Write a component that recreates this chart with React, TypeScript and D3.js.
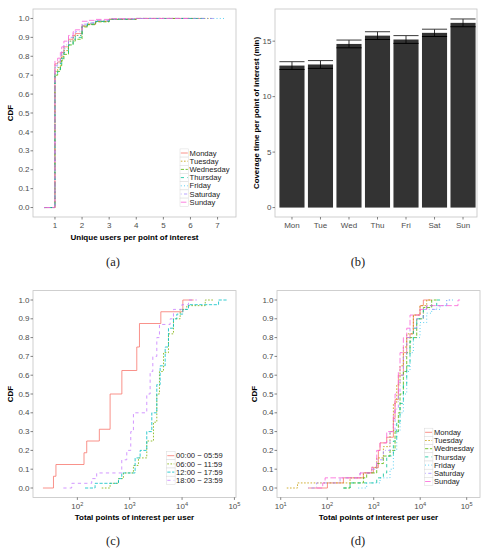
import React from 'react';
import * as d3 from 'd3';

// ---- shared ----
const weekdays = ['Monday', 'Tuesday', 'Wednesday', 'Thursday', 'Friday', 'Saturday', 'Sunday'];
const dayShort = ['Mon', 'Tue', 'Wed', 'Thu', 'Fri', 'Sat', 'Sun'];
const hueSeven = ['#F8766D', '#C49A00', '#53B400', '#00C094', '#00B6EB', '#A58AFF', '#FB61D7'];
const hueFour = ['#F8766D', '#7CAE00', '#00BFC4', '#C77CFF'];
const dashes = ['none', '1.6,1.6', '3.2,1.6', '3.2,3.2', '0.8,2.4', '0.8,2.4,3.2,2.4', '5.6,2.4'];

// ---- (a) unique users per POI: cdf level after each break ----
const usersBreaks = [0.6, 1, 1.1, 1.2, 1.25, 1.33, 1.5, 1.67, 1.75, 2, 2.2, 2.5, 3, 4];
const usersMonday = [0, 0.76, 0.77, 0.79, 0.82, 0.85, 0.89, 0.91, 0.92, 0.96, 0.97, 0.985, 0.996, 1];
const usersTuesday = [0, 0.72, 0.74, 0.77, 0.8, 0.83, 0.88, 0.9, 0.91, 0.96, 0.97, 0.985, 0.996, 1];
const usersWednesday = [0, 0.7, 0.72, 0.75, 0.78, 0.81, 0.86, 0.88, 0.89, 0.955, 0.967, 0.982, 0.995, 1];
const usersThursday = [0, 0.71, 0.73, 0.76, 0.79, 0.82, 0.86, 0.89, 0.9, 0.96, 0.97, 0.984, 0.996, 1];
const usersFriday = [0, 0.74, 0.76, 0.78, 0.81, 0.84, 0.88, 0.9, 0.91, 0.965, 0.975, 0.988, 0.997, 1];
const usersSaturday = [0, 0.75, 0.77, 0.8, 0.83, 0.86, 0.9, 0.92, 0.93, 0.97, 0.978, 0.99, 0.997, 1];
const usersSunday = [0, 0.775, 0.79, 0.82, 0.85, 0.88, 0.91, 0.93, 0.94, 0.985, 0.99, 0.995, 0.998, 1];
const usersEnd = [6.5, 6.8, 6.2, 6.6, 7.3, 6.9, 6.0];

// ---- (b) coverage time per POI (min) ----
const coverageMean = [12.8, 12.9, 14.75, 15.5, 15.15, 15.75, 16.65];
const coverageErr = [0.35, 0.35, 0.35, 0.35, 0.35, 0.33, 0.35];

// ---- (c) total POIs per user, by time slot: [value, cdf] ----
const slotNames = ['00:00 \u2212 05:59', '06:00 \u2212 11:59', '12:00 \u2212 17:59', '18:00 \u2212 23:59'];
const slotNight = [[22, 0], [35, 0.0625], [39, 0.125], [134, 0.1875], [151, 0.25], [263, 0.3125], [422, 0.5], [708, 0.625], [1365, 0.75], [1535, 0.875], [3930, 0.9375], [10350, 1], [16600, 1]];
const slotMorning = [[292, 0], [422, 0.025], [610, 0.05], [759, 0.08], [1178, 0.12], [1469, 0.16], [2118, 0.25], [2844, 0.35], [3293, 0.5], [3700, 0.62], [4416, 0.72], [5500, 0.82], [6855, 0.9], [9204, 0.95], [12330, 0.97], [27670, 1], [39900, 1]];
const slotAfternoon = [[140, 0], [218, 0.025], [610, 0.05], [705, 0.08], [1268, 0.16], [1581, 0.2], [2118, 0.3], [2642, 0.4], [3293, 0.55], [3811, 0.65], [4753, 0.75], [5500, 0.85], [6855, 0.9], [7943, 0.925], [10350, 0.95], [13270, 0.975], [49770, 1], [71800, 1]];
const slotEvening = [[54, 0], [78, 0.025], [188, 0.05], [234, 0.08], [705, 0.15], [879, 0.2], [1047, 0.3], [1178, 0.4], [2118, 0.5], [2455, 0.62], [2761, 0.7], [3293, 0.8], [3700, 0.87], [5916, 0.9], [6855, 0.95], [9900, 0.975], [13270, 1], [19140, 1]];

// ---- (d) total POIs per user, by weekday: [value, cdf] ----
const poiMonday = [[39, 0], [101, 0.027], [223, 0.054], [600, 0.081], [984, 0.108], [1259, 0.2], [1368, 0.24], [1905, 0.27], [2649, 0.37], [2877, 0.47], [3388, 0.6], [4345, 0.72], [5129, 0.8], [6039, 0.82], [7129, 0.92], [9908, 0.97], [11690, 1], [17660, 1]];
const poiTuesday = [[13.5, 0], [23, 0.027], [310, 0.054], [600, 0.08], [906, 0.11], [1161, 0.16], [1614, 0.22], [2244, 0.3], [2649, 0.45], [3126, 0.55], [3681, 0.65], [4345, 0.75], [5129, 0.82], [7129, 0.92], [9908, 0.97], [13800, 1], [17660, 1]];
const poiWednesday = [[223, 0], [310, 0.027], [600, 0.054], [706, 0.08], [1161, 0.13], [1614, 0.17], [2244, 0.2], [2877, 0.3], [3388, 0.4], [3681, 0.5], [4345, 0.62], [5129, 0.72], [6039, 0.8], [8414, 0.9], [11690, 0.96], [17660, 1], [22650, 1]];
const poiThursday = [[223, 0], [310, 0.027], [1161, 0.054], [1614, 0.08], [1905, 0.17], [2649, 0.25], [3126, 0.35], [3681, 0.45], [4345, 0.55], [5129, 0.65], [6039, 0.78], [7129, 0.85], [8414, 0.9], [11690, 0.95], [13800, 0.97], [22650, 1], [26730, 1]];
const poiFriday = [[468, 0], [706, 0.027], [1368, 0.054], [2244, 0.1], [2649, 0.2], [3126, 0.3], [3681, 0.4], [4345, 0.5], [5129, 0.62], [6039, 0.72], [7129, 0.8], [9908, 0.88], [13800, 0.93], [17660, 0.95], [26730, 0.97], [37150, 1], [51640, 1]];
const poiSaturday = [[39, 0], [59, 0.027], [189, 0.054], [508, 0.08], [906, 0.1], [1161, 0.15], [1614, 0.2], [2244, 0.3], [2877, 0.42], [3388, 0.5], [3681, 0.6], [4345, 0.7], [5129, 0.8], [6039, 0.85], [8414, 0.9], [11690, 0.95], [22650, 0.97], [37150, 1], [44000, 1]];
const poiSunday = [[59, 0], [80, 0.027], [90, 0.054], [508, 0.08], [906, 0.11], [1161, 0.2], [1368, 0.24], [1905, 0.3], [2649, 0.4], [2877, 0.5], [3388, 0.62], [3681, 0.72], [4345, 0.8], [5129, 0.85], [6039, 0.92], [9908, 0.95], [13800, 0.97], [65000, 1], [71940, 1]];

const cdfTicks = [0, 0.1, 0.2, 0.3, 0.4, 0.5, 0.6, 0.7, 0.8, 0.9, 1];
const usersTicks = [1, 2, 3, 4, 5, 6, 7];
const coverageTicks = [0, 5, 10, 15];
const logTicksC = [2, 3, 4, 5];
const logTicksD = [1, 2, 3, 4, 5];

const SANS = 'Liberation Sans, Arial, sans-serif';
const TICK = '#4d4d4d';
const BORDER = '#c4c4c4';

type Frame = { x0: number; x1: number; y0: number; y1: number };
type Series = { name: string; color: string; dash: string; points: number[][] };

const stepLine = (x: any, y: any) =>
  d3.line<number[]>().x(d => x(d[0])).y(d => y(d[1])).curve(d3.curveStepAfter);

function YAxis({ y, frame, ticks, fmt }: any) {
  return (
    <g>
      {ticks.map((t: number) => (
        <g key={t}>
          <line x1={frame.x0 - 2.5} x2={frame.x0} y1={y(t)} y2={y(t)} stroke={TICK} strokeWidth={0.7} />
          <text x={frame.x0 - 3.5} y={y(t)} dy="0.33em" textAnchor="end" fontSize={8} fill={TICK} fontFamily={SANS}>
            {fmt(t)}
          </text>
        </g>
      ))}
    </g>
  );
}

function Legend({ x, y, items }: { x: number; y: number; items: Series[] }) {
  const rowH = 8.2;
  return (
    <g>
      {items.map((s, i) => (
        <g key={s.name} transform={`translate(${x},${y + i * rowH})`}>
          <rect x={0} y={-rowH / 2} width={8.6} height={rowH} fill="#fff" stroke="#d9d9d9" strokeWidth={0.5} />
          <line x1={0.8} x2={7.8} y1={0} y2={0} stroke={s.color} strokeWidth={0.8} strokeDasharray={s.dash} />
          <text x={9.6} y={0} dy="0.35em" fontSize={7.6} fill="#1a1a1a" fontFamily={SANS}>{s.name}</text>
        </g>
      ))}
    </g>
  );
}

function CdfPanel({ frame, x, xTicks, logTicks, series, xLabel, legend }: any) {
  const y = d3.scaleLinear().domain([-0.05, 1.05]).range([frame.y1, frame.y0]);
  const line = stepLine(x, y);
  const midX = (frame.x0 + frame.x1) / 2;
  const midY = (frame.y0 + frame.y1) / 2;
  return (
    <g>
      <rect x={frame.x0} y={frame.y0} width={frame.x1 - frame.x0} height={frame.y1 - frame.y0} fill="#fff" stroke={BORDER} strokeWidth={0.8} />
      {series.map((s: Series) => (
        <path key={s.name} d={line(s.points) || ''} fill="none" stroke={s.color} strokeWidth={0.8} strokeDasharray={s.dash} />
      ))}
      <YAxis y={y} frame={frame} ticks={cdfTicks} fmt={(v: number) => v.toFixed(1)} />
      {xTicks && xTicks.map((t: number) => (
        <g key={t}>
          <line x1={x(t)} x2={x(t)} y1={frame.y1} y2={frame.y1 + 2.5} stroke={TICK} strokeWidth={0.7} />
          <text x={x(t)} y={frame.y1 + 11} textAnchor="middle" fontSize={8} fill={TICK} fontFamily={SANS}>{t}</text>
        </g>
      ))}
      {logTicks && logTicks.map((p: number) => (
        <g key={p}>
          <line x1={x(Math.pow(10, p))} x2={x(Math.pow(10, p))} y1={frame.y1} y2={frame.y1 + 2.5} stroke={TICK} strokeWidth={0.7} />
          <text x={x(Math.pow(10, p))} y={frame.y1 + 12} textAnchor="middle" fontSize={8} fill={TICK} fontFamily={SANS}>
            10<tspan dy={-3.5} fontSize={5.6}>{p}</tspan>
          </text>
        </g>
      ))}
      <text x={midX} y={frame.y1 + 23} textAnchor="middle" fontSize={8} fontWeight="bold" fontFamily={SANS} fill="#000">{xLabel}</text>
      <text transform={`translate(${frame.x0 - 20},${midY}) rotate(-90)`} textAnchor="middle" fontSize={8} fontWeight="bold" fontFamily={SANS} fill="#000">CDF</text>
      <Legend x={legend.x} y={legend.y} items={series} />
    </g>
  );
}

function BarPanel({ frame }: { frame: Frame }) {
  const x = d3.scaleBand().domain(dayShort).range([frame.x0 + 3, frame.x1]).paddingInner(0.12).paddingOuter(0.05);
  const y = d3.scaleLinear().domain([-0.85, 17.9]).range([frame.y1, frame.y0]);
  const bw = x.bandwidth();
  return (
    <g>
      <rect x={frame.x0} y={frame.y0} width={frame.x1 - frame.x0} height={frame.y1 - frame.y0} fill="#fff" stroke={BORDER} strokeWidth={0.8} />
      {dayShort.map((d, i) => {
        const bx = x(d) as number;
        const m = coverageMean[i];
        const e = coverageErr[i];
        return (
          <g key={d}>
            <rect x={bx} y={y(m)} width={bw} height={y(0) - y(m)} fill="#333333" />
            <line x1={bx + bw / 2} x2={bx + bw / 2} y1={y(m - e)} y2={y(m + e)} stroke="#000" strokeWidth={0.8} />
            <line x1={bx} x2={bx + bw} y1={y(m + e)} y2={y(m + e)} stroke="#3a3a3a" strokeWidth={1} />
            <line x1={bx} x2={bx + bw} y1={y(m - e)} y2={y(m - e)} stroke="#000" strokeWidth={1} />
            <line x1={bx + bw / 2} x2={bx + bw / 2} y1={frame.y1} y2={frame.y1 + 2.5} stroke={TICK} strokeWidth={0.7} />
            <text x={bx + bw / 2} y={frame.y1 + 11} textAnchor="middle" fontSize={8} fill={TICK} fontFamily={SANS}>{d}</text>
          </g>
        );
      })}
      <YAxis y={y} frame={frame} ticks={coverageTicks} fmt={(v: number) => String(v)} />
      <text transform={`translate(${frame.x0 - 16},${(frame.y0 + frame.y1) / 2}) rotate(-90)`} textAnchor="middle" fontSize={7.9} fontWeight="bold" fontFamily={SANS} fill="#000">
        Coverage time per point of interest (min)
      </text>
    </g>
  );
}

const Caption = ({ x, y, label }: { x: number; y: number; label: string }) => (
  <text x={x} y={y} textAnchor="middle" fontSize={12.5} fontFamily="Liberation Serif, serif" fill="#222">{label}</text>
);

export default function App() {
  const frameA = { x0: 33, x1: 236, y0: 9, y1: 217 };
  const frameB = { x0: 275, x1: 477, y0: 9, y1: 217 };
  const frameC = { x0: 33, x1: 236, y0: 290.6, y1: 497.4 };
  const frameD = { x0: 277, x1: 480, y0: 290.6, y1: 497.4 };

  const usersRows = [usersMonday, usersTuesday, usersWednesday, usersThursday, usersFriday, usersSaturday, usersSunday];
  const seriesA: Series[] = weekdays.map((name, i) => ({
    name,
    color: hueSeven[i],
    dash: dashes[i],
    points: [...usersBreaks.map((b, j) => [b, usersRows[i][j]]), [usersEnd[i], 1]],
  }));
  const xA = d3.scaleLinear().domain([0.19, 7.68]).range([frameA.x0, frameA.x1]);

  const slotRows = [slotNight, slotMorning, slotAfternoon, slotEvening];
  const seriesC: Series[] = slotNames.map((name, i) => ({ name, color: hueFour[i], dash: dashes[i], points: slotRows[i] }));
  const xC = d3.scaleLog().domain([14.22, 107150]).range([frameC.x0, frameC.x1]);

  const poiRows = [poiMonday, poiTuesday, poiWednesday, poiThursday, poiFriday, poiSaturday, poiSunday];
  const seriesD: Series[] = weekdays.map((name, i) => ({ name, color: hueSeven[i], dash: dashes[i], points: poiRows[i] }));
  const xD = d3.scaleLog().domain([8.318, 193200]).range([frameD.x0, frameD.x1]);

  return (
    <div style={{ position: 'absolute', left: 0, top: 0 }}>
      <svg width={487} height={556} style={{ display: 'block', background: '#fff' }}>
        <CdfPanel frame={frameA} x={xA} xTicks={usersTicks} series={seriesA}
          xLabel="Unique users per point of interest" legend={{ x: 180, y: 153 }} />
        <BarPanel frame={frameB} />
        <CdfPanel frame={frameC} x={xC} logTicks={logTicksC} series={seriesC}
          xLabel="Total points of interest per user" legend={{ x: 166.5, y: 455.7 }} />
        <CdfPanel frame={frameD} x={xD} logTicks={logTicksD} series={seriesD}
          xLabel="Total points of interest per user" legend={{ x: 424.3, y: 432.3 }} />
        <Caption x={113} y={266} label="(a)" />
        <Caption x={358} y={266} label="(b)" />
        <Caption x={113} y={545} label="(c)" />
        <Caption x={358} y={545} label="(d)" />
      </svg>
    </div>
  );
}
